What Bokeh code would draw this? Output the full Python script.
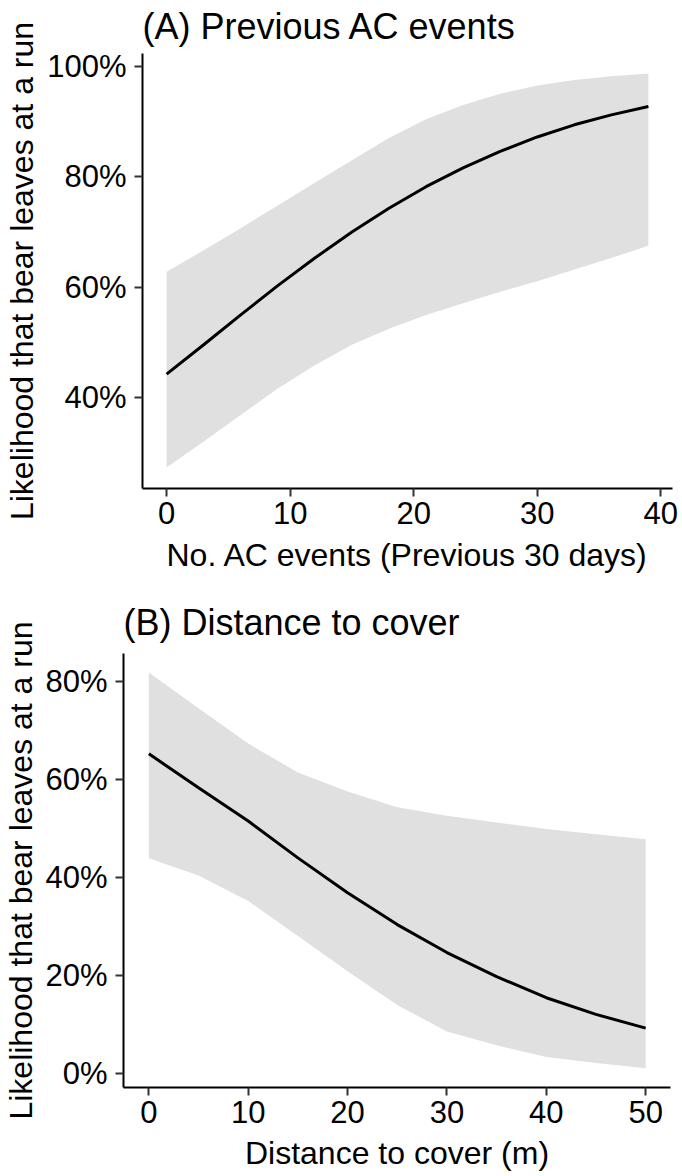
from bokeh.plotting import figure
from bokeh.models import Range1d, FixedTicker
from bokeh.embed import file_html
from bokeh.resources import INLINE

FONT = "Liberation Sans"

# ---- Panel A: previous AC events ----
ac_x = [0, 3, 6, 9, 12, 15, 18, 21, 24, 27, 30, 33, 36, 39]
ac_fit = [44.3, 49.6, 55.0, 60.3, 65.3, 70.0, 74.3, 78.2, 81.6, 84.6, 87.2, 89.4, 91.2, 92.7]
ac_lo = [27.4, 32.1, 36.9, 41.7, 45.9, 49.6, 52.5, 55.0, 57.1, 59.2, 61.1, 63.2, 65.3, 67.5]
ac_hi = [62.8, 66.7, 70.7, 74.8, 78.9, 83.0, 87.0, 90.4, 93.0, 95.0, 96.5, 97.5, 98.2, 98.7]
ac_xticks = [0, 10, 20, 30, 40]
ac_yticks = [40, 60, 80, 100]
ac_ylabels = ["40%", "60%", "80%", "100%"]

# ---- Panel B: distance to cover ----
cov_x = [0, 5, 10, 15, 20, 25, 30, 35, 40, 45, 50]
cov_fit = [65.2, 58.3, 51.5, 44.0, 36.9, 30.4, 24.7, 19.8, 15.5, 12.1, 9.3]
cov_lo = [43.9, 40.4, 35.2, 28.1, 20.9, 14.0, 8.6, 5.8, 3.4, 2.2, 1.1]
cov_hi = [81.8, 74.5, 67.3, 61.4, 57.5, 54.3, 52.6, 51.2, 49.9, 48.8, 47.8]
cov_xticks = [0, 10, 20, 30, 40, 50]
cov_yticks = [0, 20, 40, 60, 80]
cov_ylabels = ["0%", "20%", "40%", "60%", "80%"]

YLABEL = "Likelihood that bear leaves at a run"
FIG_W = 682


def panel(title, xlabel, xs, fit, lo, hi, xticks, yticks, ylabels,
          xr, yr, height, borders, title_standoff, ylab_standoff, xlab_standoff):
    left, right, top, bottom = borders
    p = figure(width=FIG_W, height=height, output_backend="svg",
               toolbar_location=None, x_range=Range1d(*xr), y_range=Range1d(*yr),
               min_border_left=left, min_border_right=right,
               min_border_top=top, min_border_bottom=bottom)
    p.outline_line_color = None
    p.xgrid.grid_line_color = None
    p.ygrid.grid_line_color = None
    p.background_fill_color = "white"

    p.varea(x=xs, y1=lo, y2=hi, fill_color="#e0e0e0")
    p.line(x=xs, y=fit, line_color="black", line_width=3)

    p.title.text = title
    p.title.text_font = FONT
    p.title.text_font_size = "36px"
    p.title.text_font_style = "normal"
    p.title.text_color = "black"
    p.title.align = "left"
    p.title.vertical_align = "top"
    p.title.standoff = title_standoff

    p.xaxis.ticker = FixedTicker(ticks=xticks)
    p.yaxis.ticker = FixedTicker(ticks=yticks)
    p.yaxis.major_label_overrides = {t: l for t, l in zip(yticks, ylabels)}
    p.xaxis.axis_label = xlabel
    p.yaxis.axis_label = YLABEL

    for ax in (p.xaxis[0], p.yaxis[0]):
        ax.axis_line_width = 2
        ax.axis_line_color = "black"
        ax.major_tick_line_width = 2
        ax.major_tick_line_color = "#333333"
        ax.major_tick_out = 8
        ax.major_tick_in = 0
        ax.minor_tick_out = 0
        ax.minor_tick_in = 0
        ax.major_label_text_font = FONT
        ax.major_label_text_font_size = "31px"
        ax.major_label_text_color = "black"
        ax.axis_label_text_font = FONT
        ax.axis_label_text_font_size = "32px"
        ax.axis_label_text_font_style = "normal"
        ax.axis_label_text_color = "black"
    p.xaxis.major_label_standoff = 5
    p.xaxis.axis_label_standoff = xlab_standoff
    p.yaxis.major_label_standoff = 8
    p.yaxis.axis_label_standoff = ylab_standoff
    return p


pa = panel("(A) Previous AC events", "No. AC events (Previous 30 days)",
           ac_x, ac_fit, ac_lo, ac_hi, ac_xticks, ac_yticks, ac_ylabels,
           (-1.95, 40.95), (23.6, 102.3), 588, (142, 10, 53, 100), 10, 4, 10)
pb = panel("(B) Distance to cover", "Distance to cover (m)",
           cov_x, cov_fit, cov_lo, cov_hi, cov_xticks, cov_yticks, cov_ylabels,
           (-2.55, 52.5), (-2.8, 85.65), 588, (123, 12, 65, 89), 17, 3, 9)

open("out.html", "w").write(file_html([pa, pb], INLINE))
